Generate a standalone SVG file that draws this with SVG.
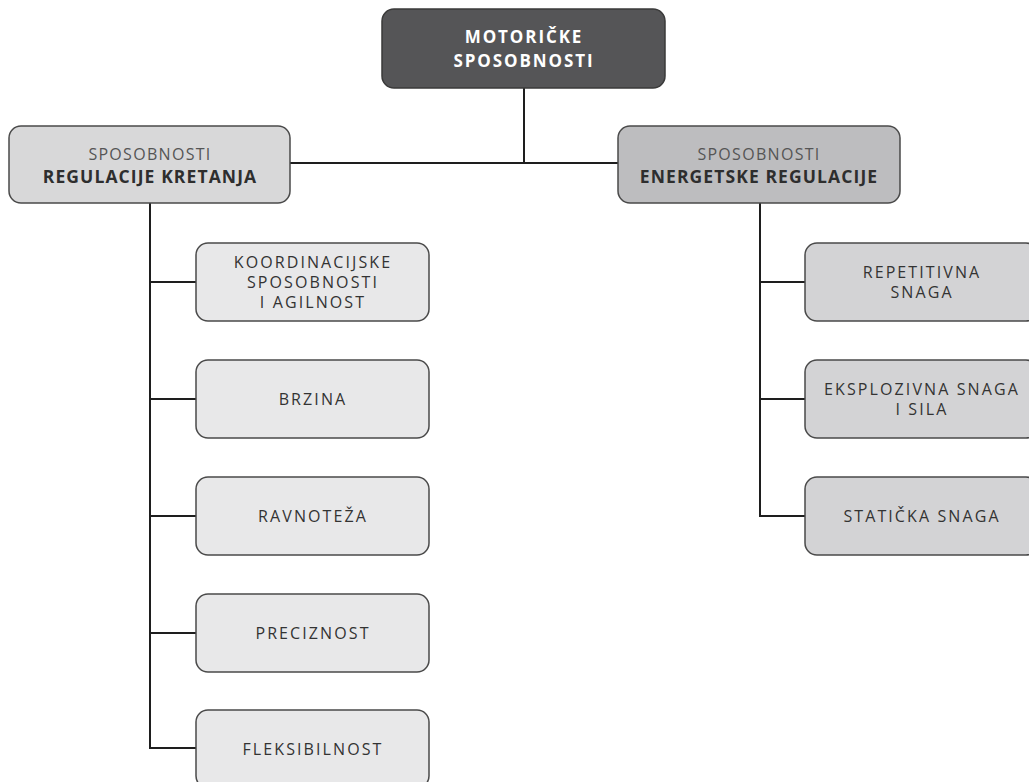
<svg xmlns="http://www.w3.org/2000/svg" width="1029" height="782" viewBox="0 0 1029 782">
<style>
text{font-family:"Open Sans","Noto Sans","DejaVu Sans",sans-serif;text-anchor:middle}
.box{stroke:#4a4a4a;stroke-width:1.5}
.root{fill:#555557;stroke:#3a3a3a}
.l1{fill:#d8d8d9}
.r1{fill:#bdbdbf}
.l2{fill:#e8e8e9}
.r2{fill:#d3d3d5}
.t{font-size:16px;fill:#333;letter-spacing:2.1px}
.h{font-size:17px;font-weight:bold;fill:#fff;letter-spacing:1.9px}
.s{font-size:16px;fill:#555;letter-spacing:1.3px}
.b{font-size:17.5px;font-weight:bold;fill:#2e2e2e;letter-spacing:1.1px}
.c{fill:none;stroke:#1e1e1e;stroke-width:2}
</style>
<g id="connectors">
<path class="c" d="M524 88V163M290 163H618"/>
<path class="c" d="M150 203V748H196M150 282H196M150 399H196M150 516H196M150 633H196"/>
<path class="c" d="M760 203V516H805M760 282H805M760 399H805"/>
</g>
<g id="root"><rect class="box root" x="382" y="9" width="283" height="79" rx="12"/>
<text class="h" x="524" y="43">MOTORIČKE</text><text class="h" x="524" y="67">SPOSOBNOSTI</text></g>
<g id="regulacija-kretanja"><rect class="box l1" x="9" y="126" width="281" height="77" rx="12"/>
<text class="s" x="150" y="160">SPOSOBNOSTI</text><text class="b" x="150" y="183">REGULACIJE KRETANJA</text></g>
<g id="energetska-regulacija"><rect class="box r1" x="618" y="126" width="282" height="77" rx="12"/>
<text class="s" x="759" y="160">SPOSOBNOSTI</text><text class="b" x="759" y="183">ENERGETSKE REGULACIJE</text></g>
<g id="koordinacija"><rect class="box l2" x="196" y="243" width="233" height="78" rx="12"/>
<text class="t" x="313" y="268">KOORDINACIJSKE</text><text class="t" x="313" y="288">SPOSOBNOSTI</text><text class="t" x="313" y="308">I AGILNOST</text></g>
<g id="brzina"><rect class="box l2" x="196" y="360" width="233" height="78" rx="12"/>
<text class="t" x="313" y="405">BRZINA</text></g>
<g id="ravnoteza"><rect class="box l2" x="196" y="477" width="233" height="78" rx="12"/>
<text class="t" x="313" y="522">RAVNOTEŽA</text></g>
<g id="preciznost"><rect class="box l2" x="196" y="594" width="233" height="78" rx="12"/>
<text class="t" x="313" y="639">PRECIZNOST</text></g>
<g id="fleksibilnost"><rect class="box l2" x="196" y="710" width="233" height="78" rx="12"/>
<text class="t" x="313" y="755">FLEKSIBILNOST</text></g>
<g id="repetitivna"><rect class="box r2" x="805" y="243" width="233" height="78" rx="12"/>
<text class="t" x="922" y="278">REPETITIVNA</text><text class="t" x="922" y="298">SNAGA</text></g>
<g id="eksplozivna"><rect class="box r2" x="805" y="360" width="233" height="78" rx="12"/>
<text class="t" x="922" y="395">EKSPLOZIVNA SNAGA</text><text class="t" x="922" y="415">I SILA</text></g>
<g id="staticka"><rect class="box r2" x="805" y="477" width="233" height="78" rx="12"/>
<text class="t" x="922" y="522">STATIČKA SNAGA</text></g>
</svg>
